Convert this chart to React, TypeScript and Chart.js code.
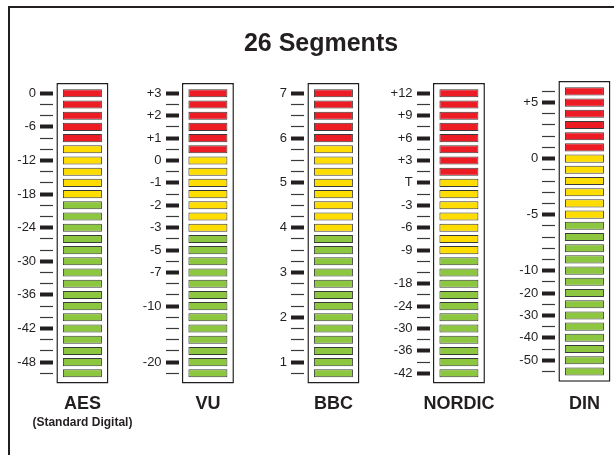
import React, { useEffect, useRef } from 'react';
import { Chart, registerables } from 'chart.js';

Chart.register(...registerables);

const TITLE = '26 Segments';
const METERS = ['AES', 'VU', 'BBC', 'NORDIC', 'DIN'];
const SUBTITLES = ['(Standard Digital)', '', '', '', ''];
const SEGMENT_COUNT = 26;
const RED_COUNTS = [5, 6, 5, 8, 6];
const YELLOW_COUNTS = [5, 7, 8, 7, 6];

const AES_TICKS = ['0', '', '', '-6', '', '', '-12', '', '', '-18', '', '', '-24', '', '', '-30', '', '', '-36', '', '', '-42', '', '', '-48', ''];
const VU_TICKS = ['+3', '', '+2', '', '+1', '', '0', '', '-1', '', '-2', '', '-3', '', '-5', '', '-7', '', '', '-10', '', '', '', '', '-20', ''];
const BBC_TICKS = ['7', '', '', '', '6', '', '', '', '5', '', '', '', '4', '', '', '', '3', '', '', '', '2', '', '', '', '1', ''];
const NORDIC_TICKS = ['+12', '', '+9', '', '+6', '', '+3', '', 'T', '', '-3', '', '-6', '', '-9', '', '', '-18', '', '-24', '', '-30', '', '-36', '', '-42'];
const DIN_TICKS = ['', '+5', '', '', '', '', '0', '', '', '', '', '-5', '', '', '', '', '-10', '', '-20', '', '-30', '', '-40', '', '-50', ''];
const METER_TICKS = [AES_TICKS, VU_TICKS, BBC_TICKS, NORDIC_TICKS, DIN_TICKS];

const RED = '#ed1c24';
const YELLOW = '#ffdd00';
const GREEN = '#8dc63f';
const INK = '#231f20';
const FONT = "'Liberation Sans', Arial, Helvetica, sans-serif";

// layout parameters (axis units)
const SEG_HALF = 0.36;
const FRAME_SPAN = [-0.92, 25.92];
const Y_MIN = -1.5;
const Y_MAX = 26.82;
const METER_Y_SHIFT = [0, 0, 0, 0, 0.17];
const X_MIN = -0.4335;
const X_MAX = 4.2357;
const TICK_SHIFT = 0.2327;
const LABEL_SHIFT = 0.369;

const IDX = Array.from({ length: SEGMENT_COUNT }, (_, i) => i);

function zoneColor(m: number, i: number) {
  if (i < RED_COUNTS[m]) return RED;
  if (i < RED_COUNTS[m] + YELLOW_COUNTS[m]) return YELLOW;
  return GREEN;
}

export default function App() {
  const ref = useRef<HTMLCanvasElement | null>(null);

  useEffect(() => {
    if (!ref.current) return;

    const xBase = (cb: (v: number) => string, size: number, padding: number) => ({
      type: 'linear',
      axis: 'x',
      position: 'bottom',
      min: X_MIN,
      max: X_MAX,
      offset: false,
      afterBuildTicks: (s: any) => {
        s.ticks = METERS.map((_, i) => ({ value: i }));
      },
      grid: { display: false, drawTicks: false, offset: false },
      border: { display: false },
      ticks: {
        autoSkip: false,
        maxRotation: 0,
        padding,
        color: INK,
        font: { family: FONT, size, weight: 'bold' },
        callback: (v: any) => cb(v),
      },
    });

    const scales: any = {
      x: xBase((v) => METERS[v] ?? '', 18, 0),
      x2: xBase((v) => SUBTITLES[v] ?? '', 12, 0),
    };

    METERS.forEach((_, m) => {
      const labels = METER_TICKS[m];
      const common = {
        type: 'linear',
        axis: 'y',
        reverse: true,
        min: Y_MIN + METER_Y_SHIFT[m],
        max: Y_MAX + METER_Y_SHIFT[m],
        afterBuildTicks: (s: any) => {
          s.ticks = IDX.map((v) => ({ value: v }));
        },
        border: { display: false },
      };
      // tick marks
      scales['y' + m] = {
        ...common,
        position: { x: m - TICK_SHIFT },
        grid: {
          display: true,
          drawOnChartArea: false,
          drawTicks: true,
          tickLength: 13,
          lineWidth: 1,
          tickWidth: (c: any) => (labels[c.index] ? 4 : 1.2),
          tickColor: (c: any) => (labels[c.index] ? INK : '#3a3a3a'),
        },
        ticks: { display: false, autoSkip: false },
      };
      // tick labels
      scales['yl' + m] = {
        ...common,
        position: { x: m - LABEL_SHIFT },
        grid: { display: false, drawTicks: false },
        ticks: {
          autoSkip: false,
          padding: 0,
          color: INK,
          font: { family: FONT, size: 13 },
          callback: (v: any) => labels[v] ?? '',
        },
      };
    });

    const frameDatasets = METERS.map((name, m) => ({
      label: name + ' frame',
      data: [{ x: m, y: FRAME_SPAN }],
      backgroundColor: '#ffffff',
      borderColor: INK,
      borderWidth: 1.5,
      borderSkipped: false,
      grouped: false,
      maxBarThickness: 52,
      order: 1,
      xAxisID: 'x',
      yAxisID: 'y' + m,
      clip: false,
    }));

    const segmentDatasets = METERS.map((name, m) => ({
      label: name,
      data: IDX.map((i) => ({ x: m, y: [i - SEG_HALF, i + SEG_HALF] })),
      backgroundColor: IDX.map((i) => zoneColor(m, i)),
      borderColor: '#3a3a3a',
      borderWidth: 1,
      borderSkipped: false,
      grouped: false,
      maxBarThickness: 39,
      order: 0,
      xAxisID: 'x',
      yAxisID: 'y' + m,
      clip: false,
    }));

    const chart = new Chart(ref.current, {
      type: 'bar',
      data: { datasets: [...segmentDatasets, ...frameDatasets] as any },
      options: {
        animation: false,
        responsive: true,
        maintainAspectRatio: false,
        layout: { padding: { left: 28, right: 0, top: 0, bottom: 25.3 } },
        plugins: {
          legend: { display: false },
          tooltip: { enabled: false },
          title: {
            display: true,
            text: TITLE,
            color: INK,
            font: { family: FONT, size: 25, weight: 'bold' },
            padding: { top: 29.3, bottom: 17.2 },
          },
        },
        scales,
      } as any,
    });

    return () => chart.destroy();
  }, []);

  return (
    <div style={{ position: 'fixed', left: 0, top: 0, width: 614, height: 455, overflow: 'hidden', background: '#fff' }}>
      <div
        style={{
          position: 'absolute',
          left: 8,
          top: 6,
          width: 700,
          height: 600,
          borderTop: `2px solid ${INK}`,
          borderLeft: `2px solid ${INK}`,
        }}
      />
      <div style={{ position: 'absolute', left: 0, top: 0, width: 614, height: 455 }}>
        <canvas ref={ref} />
      </div>
    </div>
  );
}
